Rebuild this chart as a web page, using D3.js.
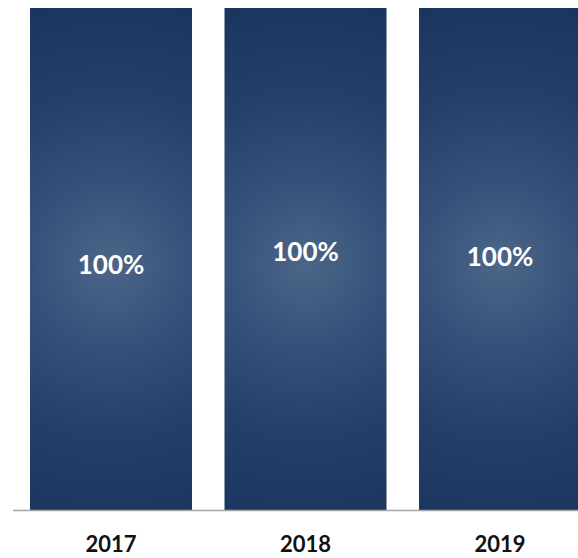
<!DOCTYPE html>
<html lang="en">
	<head>
		<meta charset="utf-8">
		<title>Bars 2017-2019</title>
		<script src="https://d3js.org/d3.v7.min.js"></script>
		<style>
			body { margin: 0; background: #fff; }
			svg { display: block; }
		</style>
	</head>
	<body>
		<script type="text/javascript">

			// data
			var years = ["2017", "2018", "2019"];
			var values = [100, 100, 100];
			var valueLabels = ["100%", "100%", "100%"];

			// label nudges in px (labels are not all at the same height)
			var labelShift = [5, -8, -3];

			var w = 578;
			var h = 558;

			var xScale = d3.scaleBand()
				.domain(years)
				.range([13.75, 597.25])
				.paddingInner(0.167)
				.paddingOuter(0.0835);

			var yScale = d3.scaleLinear()
				.domain([0, 100])
				.range([510, 8]);

			var svg = d3.select("body").append("svg")
				.attr("width", w)
				.attr("height", h);

			var rows = years.map(function(y, i) {
				return {year: y, value: values[i], label: valueLabels[i], shift: labelShift[i], i: i};
			});

			// circular shading, one gradient per bar
			var defs = svg.append("defs");
			rows.forEach(function(d) {
				var g = defs.append("radialGradient")
					.attr("id", "barGrad" + d.i)
					.attr("gradientUnits", "userSpaceOnUse")
					.attr("cx", xScale(d.year) + xScale.bandwidth() / 2)
					.attr("cy", (yScale(d.value) + yScale(0)) / 2 + 5)
					.attr("r", 265);
				g.append("stop").attr("offset", "0%").attr("stop-color", "#4c6687");
				g.append("stop").attr("offset", "30%").attr("stop-color", "#36527b");
				g.append("stop").attr("offset", "65%").attr("stop-color", "#244068");
				g.append("stop").attr("offset", "100%").attr("stop-color", "#1b365e");
			});

			svg.selectAll("rect.bar")
				.data(rows)
				.enter()
				.append("rect")
				.attr("class", "bar")
				.attr("x", function(d) { return xScale(d.year); })
				.attr("y", function(d) { return yScale(d.value); })
				.attr("width", xScale.bandwidth())
				.attr("height", function(d) { return yScale(0) - yScale(d.value); })
				.attr("fill", function(d) { return "url(#barGrad" + d.i + ")"; });

			// baseline
			svg.append("line")
				.attr("x1", 13)
				.attr("x2", w)
				.attr("y1", yScale(0) + 0.5)
				.attr("y2", yScale(0) + 0.5)
				.attr("stroke", "#a6a6a6")
				.attr("stroke-width", 1.5);

			// value labels
			svg.selectAll("text.val")
				.data(rows)
				.enter()
				.append("text")
				.attr("class", "val")
				.attr("x", function(d) { return xScale(d.year) + xScale.bandwidth() / 2; })
				.attr("y", function(d) { return (yScale(d.value) + yScale(0)) / 2 + d.shift; })
				.attr("text-anchor", "middle")
				.attr("dominant-baseline", "central")
				.attr("font-family", "Lato, 'Open Sans', sans-serif")
				.attr("font-weight", "bold")
				.attr("font-size", "26px")
				.attr("fill", "#ffffff")
				.text(function(d) { return d.label; });

			// category axis (no line/ticks, just labels)
			var xAxis = d3.axisBottom(xScale).tickSize(0).tickPadding(0);
			var gx = svg.append("g")
				.attr("transform", "translate(0," + 536 + ")")
				.call(xAxis);
			gx.select(".domain").remove();
			gx.selectAll("text")
				.attr("dy", "0.72em")
				.attr("font-family", "Lato, 'Open Sans', sans-serif")
				.attr("font-weight", "bold")
				.attr("font-size", "22px")
				.attr("fill", "#111111");

		</script>
	</body>
</html>
